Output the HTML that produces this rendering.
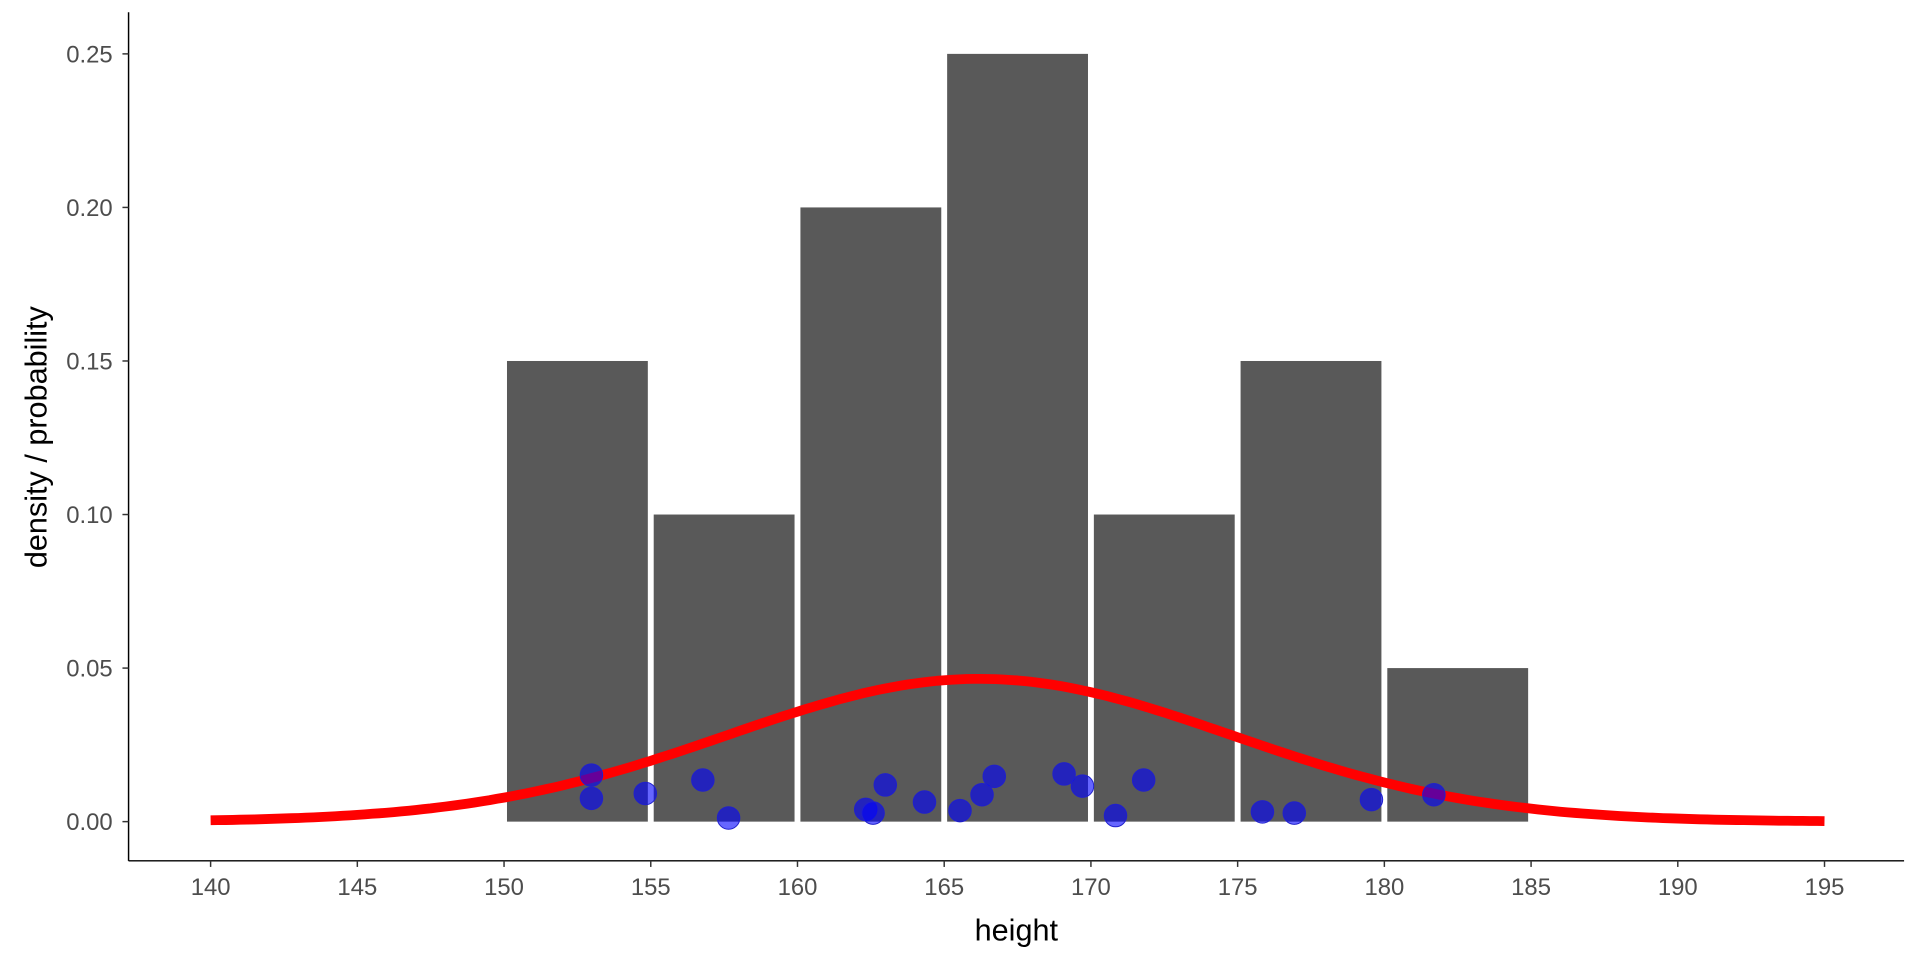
<!DOCTYPE html>
<html><head><meta charset="utf-8"><style>html,body{margin:0;padding:0;background:#fff}svg{display:block}</style></head>
<body>
<svg id="s" width="1920" height="960" viewBox="0 0 1568 784" xmlns="http://www.w3.org/2000/svg" font-family="Liberation Sans, sans-serif">
<g id="bars" fill="#595959"></g>
<path id="curve" fill="none" stroke="#ff0000" stroke-width="8" stroke-linejoin="round"/>
<g id="pts" fill="rgba(0,0,255,0.6)" stroke="#2020cc" stroke-width="0.8"></g>
<line x1="105" y1="10" x2="105" y2="703" stroke="#000" stroke-width="1.2"/>
<line x1="105" y1="703" x2="1555" y2="703" stroke="#000" stroke-width="1.2"/>
<g id="ax" fill="#4d4d4d" font-size="19.5"></g>
<text x="830" y="768" font-size="25" text-anchor="middle" fill="#000">height</text>
<text transform="translate(38,357) rotate(-90)" font-size="25" text-anchor="middle" fill="#000">density / probability</text>
</svg>
<script>
var NS="http://www.w3.org/2000/svg";
function X(h){return 172+(h-140)*23.964;}
function Y(d){return 671-d*2508;}
function el(t,a,p){var e=document.createElementNS(NS,t);for(var k in a)e.setAttribute(k,a[k]);p.appendChild(e);return e;}
var bars=[[150,.15],[155,.10],[160,.20],[165,.25],[170,.10],[175,.15],[180,.05]];
var bg=document.getElementById('bars');
bars.forEach(function(b){var x0=X(b[0])+2.4,x1=X(b[0]+5)-2.4;el('rect',{x:x0,y:Y(b[1]),width:x1-x0,height:Y(0)-Y(b[1])},bg);});
var mu=166.2,sd=8.58,d="";
for(var h=140;h<=195.001;h+=0.25){var v=Math.exp(-0.5*Math.pow((h-mu)/sd,2))/(sd*Math.sqrt(2*Math.PI));d+=(d?"L":"M")+X(h).toFixed(1)+","+Y(v).toFixed(1);}
document.getElementById('curve').setAttribute('d',d);
var P=[[483,633],[483,652],[527,648],[574,637],[595,668],[707,661],[713,664],[723,641],[755,655],[784,662],[802,649],[812,634],[869,632],[884,642],[911,666],[934,637],[1031,663],[1057,664],[1120,653],[1171,649]];
var pg=document.getElementById('pts');
P.forEach(function(p){el('circle',{cx:p[0],cy:p[1],r:9.2},pg);});
var ax=document.getElementById('ax');
for(var i=0;i<=5;i++){var y=Y(i*0.05);el('line',{x1:100,y1:y,x2:105,y2:y,stroke:'#333','stroke-width':1.2},ax);var t=el('text',{x:92,y:y+7,'text-anchor':'end'},ax);t.textContent=(i*0.05).toFixed(2);}
for(var h=140;h<=195;h+=5){var x=X(h);el('line',{x1:x,y1:703,x2:x,y2:708,stroke:'#333','stroke-width':1.2},ax);var t=el('text',{x:x,y:731,'text-anchor':'middle'},ax);t.textContent=h;}
</script>
</body></html>
